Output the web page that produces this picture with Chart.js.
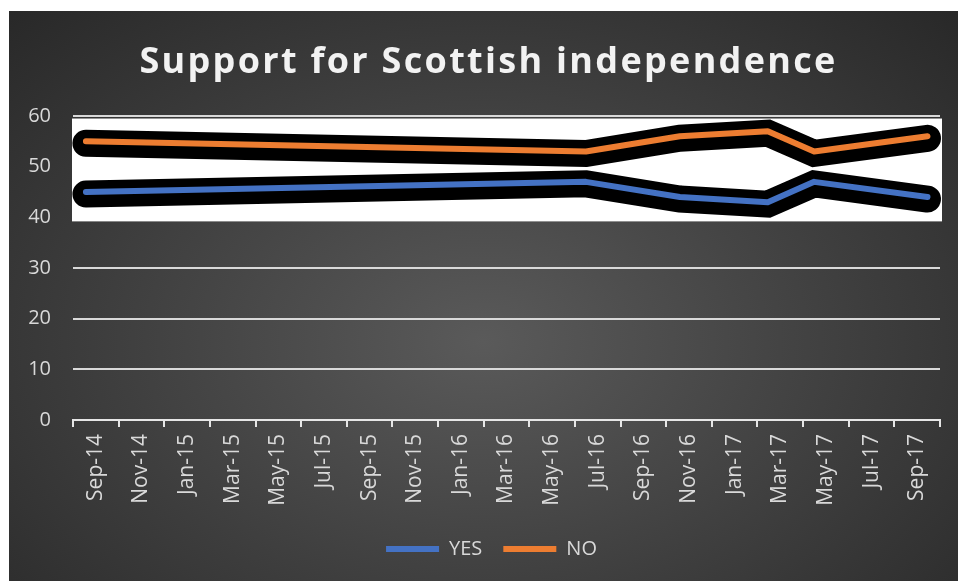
<!DOCTYPE html>
<html>
<head>
<meta charset="utf-8">
<script src="https://cdn.jsdelivr.net/npm/chart.js@4.4.1/dist/chart.umd.min.js"></script>
<style>
  html, body { margin: 0; padding: 0; background: #fff; }
  #box {
    position: absolute; left: 9px; top: 11px; width: 949px; height: 570px;
    background: radial-gradient(ellipse 75% 85% at 50% 58%, #5a5a5a 0%, #3d3d3d 55%, #262626 100%);
  }
</style>
</head>
<body>
<div id="box"><canvas id="chart"></canvas></div>
<script>
const titleText = "Support for Scottish independence";
const pollDates = ["2014-09-18", "2016-07-16", "2016-11-19", "2017-03-15", "2017-05-16", "2017-10-15"];
const yesValues = [45, 47, 44, 43, 47, 44];
const noValues = [55, 53, 56, 57, 53, 56];
const tickLabels = ["Sep-14", "Nov-14", "Jan-15", "Mar-15", "May-15", "Jul-15", "Sep-15", "Nov-15",
  "Jan-16", "Mar-16", "May-16", "Jul-16", "Sep-16", "Nov-16", "Jan-17", "Mar-17", "May-17", "Jul-17", "Sep-17"];
const bandRange = [39.2, 59.5]; // white panel behind the lines

const fontFamily = "'Open Sans', 'Noto Sans', sans-serif";
const labelColor = "#d9d9d9";

// months since 1 Sep 2014, fractional
const toMonths = (s) => {
  const [y, m, d] = s.split("-").map(Number);
  const dim = new Date(y, m, 0).getDate();
  return (y - 2014) * 12 + (m - 9) + (d - 1) / dim;
};
const pts = (vals) => vals.map((v, i) => ({ x: toMonths(pollDates[i]), y: v }));

const titlePlugin = {
  id: "spacedTitle",
  afterLayout(chart) {
    // legend sits a little right of centre in the original
    chart.legend.left += 17;
    chart.legend.right += 17;
  },
  afterDraw(chart) {
    const ctx = chart.ctx;
    ctx.save();
    ctx.font = `bold 36px ${fontFamily}`;
    ctx.fillStyle = "#f2f2f2";
    ctx.textAlign = "center";
    ctx.textBaseline = "alphabetic";
    if ("letterSpacing" in ctx) ctx.letterSpacing = "2.3px";
    ctx.fillText(titleText, chart.width / 2 + 5, 62);
    ctx.restore();
  },
};

const bandPlugin = {
  id: "whiteBand",
  beforeDatasetsDraw(chart) {
    const { ctx, chartArea, scales } = chart;
    const top = scales.y.getPixelForValue(bandRange[1]);
    const bottom = scales.y.getPixelForValue(bandRange[0]);
    ctx.save();
    ctx.fillStyle = "#ffffff";
    ctx.fillRect(chartArea.left - 1, top, chartArea.right - chartArea.left + 3, bottom - top);
    ctx.restore();
  },
  beforeDatasetDraw(chart, args) {
    if (args.meta._dataset.shadow) {
      chart.ctx.save();
      chart.ctx.translate(0, 2);
    }
  },
  afterDatasetDraw(chart, args) {
    if (args.meta._dataset.shadow) chart.ctx.restore();
  },
};

const lineDs = (label, data, color) => ({
  label, data, borderColor: color, backgroundColor: color, borderWidth: 6,
  pointRadius: 0, borderCapStyle: "round", borderJoinStyle: "round", tension: 0, order: 1,
});
const shadowDs = (data) => ({
  label: "", data, shadow: true, borderColor: "#000", borderWidth: 27,
  pointRadius: 0, borderCapStyle: "round", borderJoinStyle: "miter", tension: 0, order: 2,
});

new Chart(document.getElementById("chart"), {
  type: "line",
  data: {
    datasets: [
      lineDs("YES", pts(yesValues), "#4472c4"),
      lineDs("NO", pts(noValues), "#ed7d31"),
      shadowDs(pts(yesValues)),
      shadowDs(pts(noValues)),
    ],
  },
  options: {
    responsive: true,
    maintainAspectRatio: false,
    animation: false,
    clip: false,
    layout: { padding: { top: 105, right: 18, left: 0, bottom: 12 } },
    plugins: {
      title: { display: false },
      tooltip: { enabled: false },
      legend: {
        position: "bottom",
        labels: {
          filter: (item) => item.text !== "",
          color: labelColor,
          font: { family: fontFamily, size: 20 },
          usePointStyle: true,
          pointStyle: "line",
          pointStyleWidth: 53,
          boxHeight: 6,
          padding: 21,
        },
      },
    },
    scales: {
      x: {
        type: "linear",
        min: 0,
        max: 38,
        afterFit: (s) => {
          s.height = 98;
          s.paddingLeft = 0;
          s.paddingRight = 0;
        },
        ticks: {
          stepSize: 1,
          autoSkip: false,
          minRotation: 90,
          maxRotation: 90,
          color: labelColor,
          font: { family: fontFamily, size: 21 },
          padding: 7,
          callback: (v) => (v % 2 === 1 ? tickLabels[(v - 1) / 2] : ""),
        },
        grid: {
          drawOnChartArea: false,
          drawTicks: true,
          tickLength: 7,
          lineWidth: 2,
          color: (c) => (c.tick && c.tick.value % 2 === 0 ? "#e6e6e6" : "rgba(0,0,0,0)"),
        },
        border: { display: true, color: "#e6e6e6", width: 2 },
      },
      y: {
        min: 0,
        max: 60,
        afterFit: (s) => { s.width = 64; },
        ticks: {
          stepSize: 10,
          color: labelColor,
          font: { family: fontFamily, size: 20 },
          padding: 22,
        },
        grid: { color: "#d9d9d9", lineWidth: 2, drawTicks: false },
        border: { display: false },
      },
    },
  },
  plugins: [bandPlugin, titlePlugin],
});
</script>
</body>
</html>
